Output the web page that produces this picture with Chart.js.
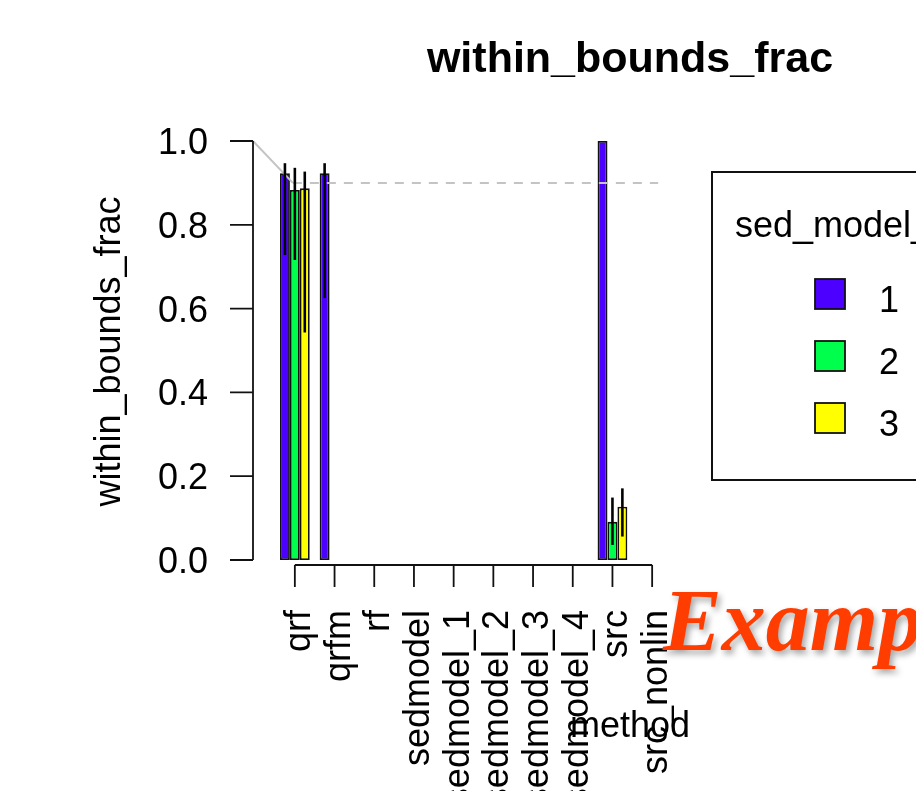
<!DOCTYPE html>
<html>
<head>
<meta charset="utf-8">
<script src="https://cdn.jsdelivr.net/npm/chart.js@4.4.1/dist/chart.umd.min.js"></script>
<style>
  html, body { margin: 0; padding: 0; background: #fff; }
  canvas { display: block; }
</style>
</head>
<body>
<canvas id="chart" width="916" height="791"></canvas>
<script>
// categories on the x axis
const methods = ["qrf", "qrfm", "rf", "sedmodel", "sedmodel_1", "sedmodel_2",
                 "sedmodel_3", "sedmodel_4", "src", "src_nonlin"];

// one series per sed model
const sedModels = ["1", "2", "3"];
const sedColors = ["#4C00FF", "#00FF4D", "#FFFF00"];

const frac1 = [0.923, 0.923, null, null, null, null, null, null, 1.0, null];
const frac2 = [0.883, null, null, null, null, null, null, null, 0.091, null];
const frac3 = [0.887, null, null, null, null, null, null, null, 0.127, null];

// error bar ends
const low1  = [0.728, 0.625, null, null, null, null, null, null, null, null];
const high1 = [0.947, 0.947, null, null, null, null, null, null, null, null];
const low2  = [0.716, null, null, null, null, null, null, null, 0.036, null];
const high2 = [0.936, null, null, null, null, null, null, null, 0.149, null];
const low3  = [0.543, null, null, null, null, null, null, null, 0.056, null];
const high3 = [0.927, null, null, null, null, null, null, null, 0.171, null];

const yTicks = [0, 0.2, 0.4, 0.6, 0.8, 1.0];
const yTickLabels = ["0.0", "0.2", "0.4", "0.6", "0.8", "1.0"];
const refStart = 1.0;
const refLevel = 0.9;

const FONT = '"Liberation Sans", Arial, Helvetica, sans-serif';

const rPlot = {
  id: 'rPlot',
  afterDatasetsDraw(chart) {
    const { ctx, scales: { x, y } } = chart;
    ctx.save();

    // reference line: slanted lead-in, then dashed at refLevel
    const x0 = chart.chartArea.left - 22;
    const xr = x.getPixelForValue(0) - 2;
    const xe = x.getPixelForValue(methods.length - 1) + 6;
    ctx.strokeStyle = '#c4c4c4';
    ctx.lineWidth = 2;
    ctx.beginPath();
    ctx.moveTo(x0, y.getPixelForValue(refStart));
    ctx.lineTo(xr, y.getPixelForValue(refLevel));
    ctx.stroke();
    ctx.setLineDash([9, 8]);
    ctx.beginPath();
    ctx.moveTo(xr, y.getPixelForValue(refLevel));
    ctx.lineTo(xe, y.getPixelForValue(refLevel));
    ctx.stroke();
    ctx.setLineDash([]);

    // error bars
    ctx.strokeStyle = '#000';
    ctx.lineWidth = 2.6;
    chart.data.datasets.forEach((ds, i) => {
      const meta = chart.getDatasetMeta(i);
      ds.low.forEach((lo, j) => {
        if (lo == null) return;
        const bx = meta.data[j].x;
        ctx.beginPath();
        ctx.moveTo(bx, y.getPixelForValue(lo));
        ctx.lineTo(bx, y.getPixelForValue(ds.high[j]));
        ctx.stroke();
      });
    });
    ctx.restore();
  },
  afterDraw(chart) {
    const { ctx, chartArea: a, scales: { x, y } } = chart;
    ctx.save();
    ctx.strokeStyle = '#111';
    ctx.fillStyle = '#000';
    ctx.lineWidth = 1.8;

    // y axis (detached, R style)
    const ax = a.left - 22;
    ctx.beginPath();
    ctx.moveTo(ax, y.getPixelForValue(yTicks[0]));
    ctx.lineTo(ax, y.getPixelForValue(yTicks[yTicks.length - 1]));
    yTicks.forEach(v => {
      const py = y.getPixelForValue(v);
      ctx.moveTo(ax, py);
      ctx.lineTo(ax - 23, py);
    });
    ctx.stroke();
    ctx.font = '36px ' + FONT;
    ctx.textAlign = 'right';
    ctx.textBaseline = 'middle';
    yTicks.forEach((v, i) => {
      ctx.fillText(yTickLabels[i], ax - 45, y.getPixelForValue(v) + 3);
    });

    // x axis
    const ay = a.bottom + 5;
    ctx.beginPath();
    ctx.moveTo(x.getPixelForValue(0), ay);
    ctx.lineTo(x.getPixelForValue(methods.length - 1), ay);
    methods.forEach((m, i) => {
      const px = x.getPixelForValue(i);
      ctx.moveTo(px, ay);
      ctx.lineTo(px, ay + 22);
    });
    ctx.stroke();
    ctx.textAlign = 'right';
    ctx.textBaseline = 'alphabetic';
    methods.forEach((m, i) => {
      ctx.save();
      ctx.translate(x.getPixelForValue(i) + 15, ay + 45);
      ctx.rotate(-Math.PI / 2);
      ctx.fillText(m, 0, 0);
      ctx.restore();
    });

    // axis titles
    ctx.textAlign = 'center';
    ctx.fillText('method', 630, 737);
    ctx.save();
    ctx.translate(120, (a.top + a.bottom) / 2 + 1);
    ctx.rotate(-Math.PI / 2);
    ctx.fillText('within_bounds_frac', 0, 0);
    ctx.restore();

    // main title
    ctx.font = 'bold 43px ' + FONT;
    ctx.fillText('within_bounds_frac', 630, 72);

    // legend
    ctx.lineWidth = 2;
    ctx.strokeRect(712, 172, 320, 308);
    ctx.font = '36px ' + FONT;
    ctx.textAlign = 'left';
    ctx.fillText('sed_model_type', 735, 237);
    chart.data.datasets.forEach((ds, i) => {
      const top = 279 + i * 62;
      ctx.fillStyle = ds.backgroundColor;
      ctx.fillRect(815, top, 30, 30);
      ctx.lineWidth = 1.8;
      ctx.strokeRect(815, top, 30, 30);
      ctx.fillStyle = '#000';
      ctx.fillText(ds.label, 879, top + 33);
    });

    // watermark
    ctx.font = 'italic bold 88px "Liberation Serif", "DejaVu Serif", serif';
    ctx.fillStyle = '#ff3d00';
    ctx.shadowColor = 'rgba(0,0,0,0.35)';
    ctx.shadowBlur = 6;
    ctx.shadowOffsetX = 3;
    ctx.shadowOffsetY = 4;
    ctx.textAlign = 'left';
    ctx.fillText('Example', 663, 650);
    ctx.restore();
  }
};

const values = [frac1, frac2, frac3];
const lows = [low1, low2, low3];
const highs = [high1, high2, high3];

const ctx = document.getElementById('chart').getContext('2d');
new Chart(ctx, {
  type: 'bar',
  data: {
    labels: methods,
    datasets: sedModels.map((s, i) => ({
      label: s,
      data: values[i],
      low: lows[i],
      high: highs[i],
      backgroundColor: sedColors[i],
      borderColor: '#111',
      borderWidth: 1.8,
      borderSkipped: false,
      categoryPercentage: 0.75,
      barPercentage: 1.0
    }))
  },
  options: {
    responsive: false,
    animation: false,
    layout: { padding: { left: 275, right: 244, top: 141, bottom: 231 } },
    scales: {
      x: { display: false, offset: true },
      y: { display: false, min: 0, max: 1 }
    },
    plugins: {
      legend: { display: false },
      tooltip: { enabled: false }
    }
  },
  plugins: [rPlot]
});
</script>
</body>
</html>
